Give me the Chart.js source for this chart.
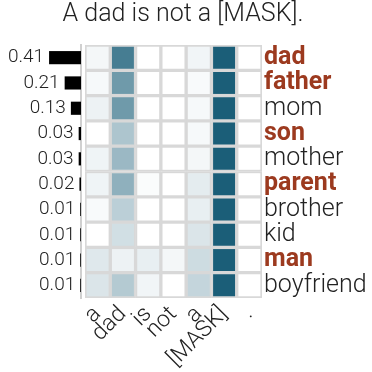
<!DOCTYPE html>
<html>
<head>
<meta charset="utf-8">
<script src="https://cdn.jsdelivr.net/npm/chart.js@4"></script>
<style>
  html, body { margin: 0; padding: 0; background: #fff; }
  #wrap { position: relative; width: 372px; height: 372px; }
  #wrap canvas { position: absolute; top: 0; left: 0; }
</style>
</head>
<body>
<div id="wrap">
  <canvas id="heat" width="372" height="372"></canvas>
  <canvas id="probs" width="86" height="372"></canvas>
</div>
<script>
const title = "A dad is not a [MASK].";
const tokens = ["a", "dad", "is", "not", "a", "[MASK]", "."];
const words = ["dad", "father", "mom", "son", "mother", "parent", "brother", "kid", "man", "boyfriend"];
const highlighted = [true, true, false, true, false, true, false, false, true, false];
const probs = [0.41, 0.21, 0.13, 0.03, 0.03, 0.02, 0.01, 0.01, 0.01, 0.01];
// one row per predicted word, one value per input token
const attention = [
  [0.05, 0.81, 0, 0, 0.06, 1, 0],
  [0.04, 0.63, 0, 0, 0.03, 1, 0],
  [0.08, 0.63, 0, 0, 0.04, 1, 0],
  [0, 0.36, 0, 0, 0.04, 1, 0],
  [0.07, 0.44, 0, 0, 0.05, 1, 0],
  [0.07, 0.49, 0.02, 0, 0.12, 1, 0],
  [0.03, 0.30, 0, 0, 0.10, 1, 0],
  [0, 0.20, 0, 0, 0.16, 1, 0],
  [0.14, 0.08, 0.10, 0.05, 0.22, 1, 0],
  [0.16, 0.33, 0.06, 0, 0.26, 1, 0],
];

Chart.defaults.font.family = "Roboto, sans-serif";
Chart.defaults.color = "#222";

const dark = [27, 94, 120];
function shade(t) {
  const c = dark.map(d => Math.round(255 + (d - 255) * t));
  return `rgb(${c[0]}, ${c[1]}, ${c[2]})`;
}

new Chart(document.getElementById("heat"), {
  type: "bar",
  data: {
    labels: words,
    datasets: tokens.map((tok, j) => ({
      label: tok,
      data: words.map(() => 1),
      backgroundColor: attention.map(row => shade(row[j])),
      borderColor: "#d8d8d8",
      borderWidth: 2,
      borderSkipped: false,
      barPercentage: 1,
      categoryPercentage: 1,
    })),
  },
  options: {
    indexAxis: "y",
    responsive: false,
    animation: false,
    layout: { padding: { right: 6 } },
    plugins: {
      legend: { display: false },
      tooltip: { enabled: false },
      title: {
        display: true,
        text: title,
        color: "#222",
        font: { size: 25, weight: 300 },
        padding: { top: 0, bottom: 15 },
      },
    },
    scales: {
      x: {
        type: "linear",
        stacked: true,
        min: 0,
        max: tokens.length,
        grid: { display: false, drawTicks: false },
        border: { display: false },
        afterBuildTicks: s => { s.ticks = tokens.map((t, i) => ({ value: i + 0.5 })); },
        afterFit: s => { s.height = 74; },
        ticks: {
          autoSkip: false,
          minRotation: 45,
          maxRotation: 45,
          padding: 3,
          font: { size: 23, weight: 300 },
          callback: (v, i) => tokens[i],
        },
      },
      y: {
        type: "category",
        position: "right",
        stacked: true,
        grid: { display: false, drawTicks: false },
        border: { display: false },
        afterFit: s => { s.width = 104; },
        ticks: {
          autoSkip: false,
          padding: 2,
          font: ctx => ({ size: 25, weight: highlighted[ctx.index] ? 700 : 300 }),
          color: ctx => highlighted[ctx.index] ? "#9c3a1f" : "#222",
        },
      },
      spacer: {
        type: "category",
        position: "left",
        grid: { display: false },
        border: { display: false },
        ticks: { display: false },
        afterFit: s => { s.width = 85; },
      },
    },
  },
});

const probLabels = {
  id: "probLabels",
  afterDatasetsDraw(chart) {
    const ctx = chart.ctx;
    ctx.save();
    ctx.font = "300 19px Roboto, sans-serif";
    ctx.fillStyle = "#222";
    ctx.textAlign = "right";
    ctx.textBaseline = "middle";
    chart.getDatasetMeta(0).data.forEach((bar, i) => {
      ctx.fillText(probs[i].toFixed(2), bar.x - 5, bar.y);
    });
    ctx.restore();
  },
};

new Chart(document.getElementById("probs"), {
  type: "bar",
  data: {
    labels: words,
    datasets: [{
      data: probs,
      backgroundColor: "#000",
      barPercentage: 0.52,
      categoryPercentage: 1,
    }],
  },
  options: {
    indexAxis: "y",
    responsive: false,
    animation: false,
    layout: { padding: { top: 45, bottom: 74, left: 0, right: 5 } },
    plugins: { legend: { display: false }, tooltip: { enabled: false } },
    scales: {
      x: { type: "linear", reverse: true, min: 0, max: 1.04, display: false },
      y: {
        position: "right",
        grid: { display: false },
        ticks: { display: false },
        border: { display: true, color: "#d0d0d0", width: 2 },
        afterFit: s => { s.width = 0; },
      },
    },
  },
  plugins: [probLabels],
});
</script>
</body>
</html>
